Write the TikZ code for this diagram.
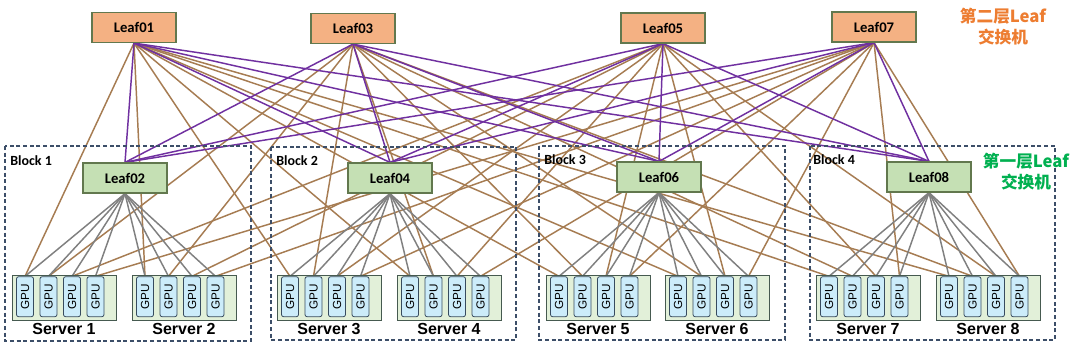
\documentclass[tikz,border=0pt]{standalone}
\usepackage{fontspec}
\newfontfamily\calf{Carlito}
\newfontfamily\arf{Liberation Sans}
\newfontfamily\cjk{Noto Sans CJK SC}
\usetikzlibrary{backgrounds,shadows}
\definecolor{orfill}{RGB}{244,177,131}
\definecolor{grfill}{RGB}{197,224,180}
\definecolor{leafedge}{RGB}{98,120,78}
\definecolor{srvfill}{RGB}{226,240,217}
\definecolor{srvedge}{RGB}{70,90,80}
\definecolor{gpufill}{RGB}{204,236,250}
\definecolor{gpuedge}{RGB}{55,75,95}
\definecolor{brownc}{RGB}{166,124,82}
\definecolor{purplec}{RGB}{112,48,160}
\definecolor{grayc}{RGB}{128,128,128}
\definecolor{navyc}{RGB}{60,78,104}
\definecolor{orangetxt}{RGB}{237,125,49}
\definecolor{greentxt}{RGB}{0,176,80}
\tikzset{
  leafbox/.style={draw=leafedge,line width=0.9pt,minimum width=63pt,minimum height=22.5pt,inner sep=0pt,
    font=\calf\bfseries\fontsize{11}{12}\selectfont},
  topleaf/.style={leafbox,fill=orfill},
  lowleaf/.style={leafbox,fill=grfill},
  serverbox/.style={draw=srvedge,line width=0.7pt,fill=srvfill,minimum width=78pt,minimum height=33.75pt,inner sep=0pt,
    drop shadow={shadow xshift=0.9pt,shadow yshift=-0.9pt,fill=black!45,opacity=0.7}},
  gpubox/.style={draw=gpuedge,line width=0.6pt,fill=gpufill,rounded corners=1.6pt,minimum width=12.75pt,minimum height=30pt,inner sep=0pt,
    font=\arf\fontsize{8.8}{9}\selectfont},
  slabel/.style={font=\arf\bfseries\fontsize{12}{14}\selectfont,inner sep=0pt},
  blocklabel/.style={anchor=west,font=\calf\bfseries\fontsize{10.5}{12}\selectfont,inner sep=0pt},
  blockbox/.style={draw=navyc,line width=1pt,dash pattern=on 3pt off 2pt},
  brownline/.style={draw=brownc,line width=1.1pt},
  purpleline/.style={draw=purplec,line width=1.1pt},
  grayline/.style={draw=grayc,line width=1.1pt},
  cjklabel/.style={align=center,font=\cjk\bfseries\fontsize{12.5}{15.75}\selectfont,inner sep=0pt}
}
\begin{document}
\begin{tikzpicture}[x=0.75pt,y=-0.75pt]
\useasboundingbox (0,0) rectangle (1080,351);
% blocks
\draw[blockbox] (5,146) rectangle (251,341);
\draw[blockbox] (271,147) rectangle (516,340);
\draw[blockbox] (539,146) rectangle (785,340);
\draw[blockbox] (810,146) rectangle (1055,340);
\node[blocklabel] (b1) at (10,160.5) {Block 1};
\node[blocklabel] (b2) at (276,160.5) {Block 2};
\node[blocklabel] (b3) at (544,160) {Block 3};
\node[blocklabel] (b4) at (813,160) {Block 4};
% top leaves
\node[topleaf] (l01) at (134,27.5) {Leaf01};
\node[topleaf] (l03) at (353,28.5) {Leaf03};
\node[topleaf] (l05) at (663,28) {Leaf05};
\node[topleaf] (l07) at (874,27) {Leaf07};
% block leaves
\node[lowleaf] (l02) at (125,178) {Leaf02};
\node[lowleaf] (l04) at (390,178) {Leaf04};
\node[lowleaf] (l06) at (659,177) {Leaf06};
\node[lowleaf] (l08) at (929,177) {Leaf08};
% labels
\node[cjklabel,text=orangetxt] (t2) at (1003,26.5) {第二层Leaf\\交换机};
\node[cjklabel,text=greentxt] (t1) at (1026,171.5) {第一层Leaf\\交换机};
% servers
\foreach \s/\l in {1/12,2/132,3/277,4/397,5/546,6/665,7/816,8/936} {
  \node[serverbox] (srv\s) at ({\l+52},297.5) {};
  \foreach \k in {1,...,4}
    \node[gpubox] (s\s g\k) at ({\l+13+23.5*(\k-1)},296.7) {\rotatebox{90}{GPU}};
  \node[slabel] (sl\s) at ({\l+52},329) {Server \s};
}
% connectors
\begin{scope}[on background layer]
\fill[white] (0,0) rectangle (1080,351);
\foreach \t/\k in {l01/1,l03/2,l05/3,l07/4}
  \foreach \s in {1,...,8}
    \draw[brownline] (\t.south) -- (s\s g\k.north);
\foreach \lf/\s in {l02/1,l02/2,l04/3,l04/4,l06/5,l06/6,l08/7,l08/8}
  \foreach \k in {1,...,4}
    \draw[grayline] (\lf.south) -- (s\s g\k.north);
\foreach \t in {l01,l03,l05,l07}
  \foreach \b in {l02,l04,l06,l08}
    \draw[purpleline] (\t.south) -- (\b.north);
\end{scope}
\end{tikzpicture}
\end{document}
